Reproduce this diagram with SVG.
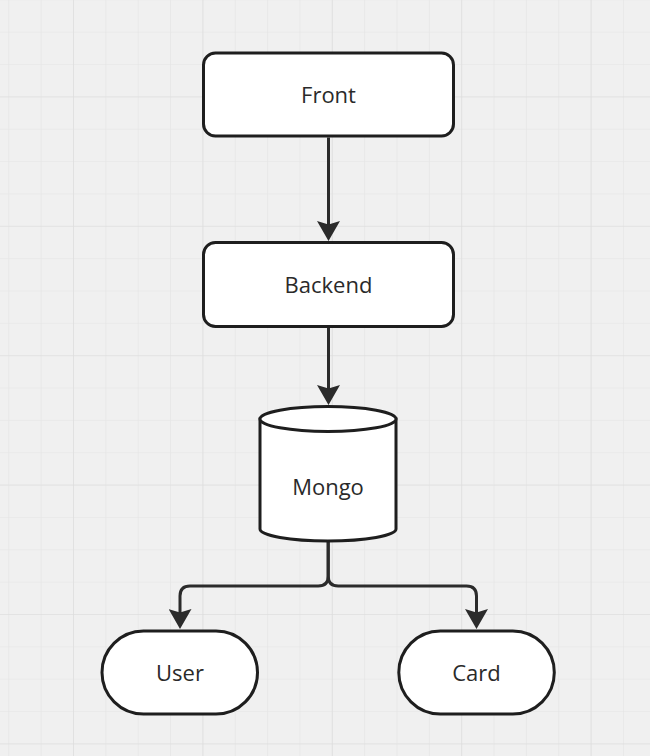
<svg xmlns="http://www.w3.org/2000/svg" width="650" height="756" viewBox="0 0 650 756">
  <defs>
    <pattern id="minor" patternUnits="userSpaceOnUse" x="8.3" y="-0.65" width="32.35" height="32.35">
      <path d="M0,0 H32.35 M0,0 V32.35" fill="none" stroke="#e4e4e4" stroke-width="1.2"/>
    </pattern>
    <pattern id="major" patternUnits="userSpaceOnUse" x="73" y="96.4" width="129.4" height="129.4">
      <path d="M0,0 H129.4 M0,0 V129.4" fill="none" stroke="#dcdcdc" stroke-width="1.2"/>
    </pattern>
    <marker id="arrow" markerUnits="userSpaceOnUse" viewBox="0 0 20 23" markerWidth="20" markerHeight="23" refX="16" refY="11.5" orient="auto">
      <path d="M0,0 L20,11.5 L0,23 L3.5,11.5 Z" fill="#2b2b2b"/>
    </marker>
  </defs>
  <style>
    .node { fill: #ffffff; stroke: #1e1e1e; stroke-width: 3; }
    .label { font-family: "Open Sans", "Noto Sans", sans-serif; font-size: 22px; fill: #2a2a2a; text-anchor: middle; }
    .edge { fill: none; stroke: #2b2b2b; stroke-width: 3; }
  </style>
  <rect width="650" height="756" fill="#f0f0f0"/>
  <rect width="650" height="756" fill="url(#minor)"/>
  <rect width="650" height="756" fill="url(#major)"/>

  <g id="connectors">
    <path class="edge" d="M328.5,137.5 L328.5,237" marker-end="url(#arrow)"/>
    <path class="edge" d="M328.5,327.5 L328.5,401" marker-end="url(#arrow)"/>
    <path class="edge" d="M328.2,541 L328.2,576 Q328.2,586 318.2,586 L190,586 Q180,586 180,596 L180,625" marker-end="url(#arrow)"/>
    <path class="edge" d="M328.2,541 L328.2,576 Q328.2,586 338.2,586 L466.5,586 Q476.5,586 476.5,596 L476.5,625" marker-end="url(#arrow)"/>
  </g>

  <g id="front">
    <rect class="node" x="203.5" y="53" width="250" height="83" rx="12"/>
    <text class="label" x="328.5" y="103">Front</text>
  </g>

  <g id="backend">
    <rect class="node" x="203.5" y="242.5" width="250" height="84" rx="12"/>
    <text class="label" x="328.5" y="292.5">Backend</text>
  </g>

  <g id="mongo">
    <path class="node" d="M260,419 L260,529 A68,12 0 0 0 396,529 L396,419 Z"/>
    <ellipse class="node" cx="328" cy="419" rx="68" ry="12.5"/>
    <text class="label" x="328" y="495">Mongo</text>
  </g>

  <g id="user">
    <rect class="node" x="102" y="631" width="155.5" height="83" rx="41.5"/>
    <text class="label" x="180" y="680.5">User</text>
  </g>

  <g id="card">
    <rect class="node" x="398.8" y="631" width="155.5" height="83" rx="41.5"/>
    <text class="label" x="476.5" y="680.5">Card</text>
  </g>
</svg>
